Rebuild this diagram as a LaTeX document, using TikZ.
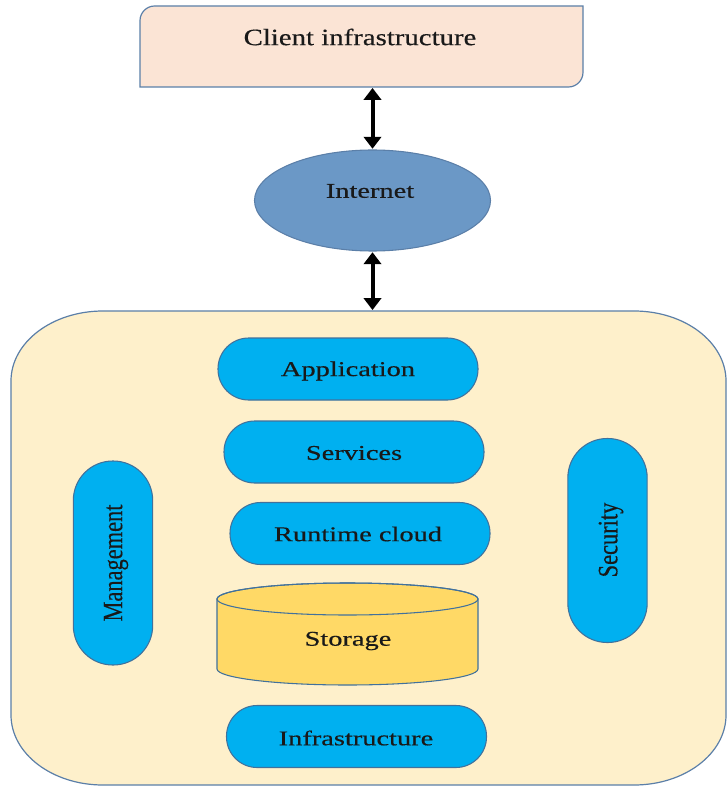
\documentclass[tikz,border=0pt]{standalone}
\usepackage{fontspec}
\setmainfont{Liberation Serif}[FakeBold=0.4]
\usetikzlibrary{arrows.meta,shapes.geometric}
\definecolor{clientfill}{HTML}{FBE4D5}
\definecolor{edgeblue}{HTML}{5B7FA8}
\definecolor{netfill}{HTML}{6B98C6}
\definecolor{cloudfill}{HTML}{FEF0CB}
\definecolor{pillfill}{HTML}{00B0F0}
\definecolor{pilledge}{HTML}{41719C}
\definecolor{storefill}{HTML}{FFD966}
\newcommand{\sx}[1]{\scalebox{1.42}[1.05]{#1}}
\newcommand{\sv}[1]{\rotatebox{90}{\scalebox{1.12}[1.4]{#1}}}
\tikzset{
  lbl/.style={font=\fontsize{15}{18}\selectfont, text=black!90, inner sep=0pt},
  pill/.style={draw=pilledge, fill=pillfill, line width=0.8pt, rounded corners=23pt,
    minimum width=195pt, minimum height=46.5pt, inner sep=0pt},
  vpill/.style={draw=pilledge, fill=pillfill, line width=0.8pt, rounded corners=29.5pt,
    minimum width=59.5pt, minimum height=153pt, inner sep=0pt},
  link/.style={line width=3pt, {Triangle[length=9pt,width=13pt]}-{Triangle[length=9pt,width=13pt]}, shorten <=0.5pt, shorten >=0.5pt}
}
\begin{document}
\begin{tikzpicture}[x=0.75pt,y=-0.75pt]
\useasboundingbox (0,0) rectangle (727,787);
% client box
\draw[edgeblue, fill=clientfill, line width=0.9pt]
  (361,87) -- (140,87) -- (140,46) [rounded corners=11pt] -- (140,6) -- (361,6)
  [sharp corners] -- (583,6) -- (583,46) [rounded corners=11pt] -- (583,87) -- cycle;
\node[minimum width=332pt, minimum height=60.75pt, inner sep=0pt] (client) at (361.5,46.5) {};
\node[lbl] (clienttext) at (360,37) {\scalebox{1.44}[1.17]{Client infrastructure}};
% internet
\node[draw=edgeblue, fill=netfill, line width=0.8pt, ellipse, minimum width=177pt, minimum height=75.75pt, inner sep=0pt] (internet) at (372.5,200.5) {};
\node[lbl] (internettext) at (370,191) {\sx{Internet}};
% cloud container
\draw[edgeblue, fill=cloudfill, line width=0.9pt]
  (103,311) -- (634,311) arc[start angle=-90, end angle=0, x radius=92, y radius=70]
  -- (726,715) arc[start angle=0, end angle=90, x radius=92, y radius=70]
  -- (103,785) arc[start angle=90, end angle=180, x radius=92, y radius=70]
  -- (11,381) arc[start angle=180, end angle=270, x radius=92, y radius=70] -- cycle;
\node[minimum width=536.25pt, minimum height=355.5pt, inner sep=0pt] (cloud) at (368.5,548) {};
% arrows
\draw[link] (internet.north |- client.south) -- (internet.north);
\draw[link] (internet.south) -- (internet.south |- cloud.north);
% pills
\node[pill] (app) at (348,369) {};
\node[lbl] (apptext) at (348,371) {\sx{Application}};
\node[pill] (services) at (354,452) {};
\node[lbl] (servicestext) at (354,453) {\sx{Services}};
\node[pill] (runtime) at (360,533.5) {};
\node[lbl] (runtimetext) at (358,534) {\sx{Runtime cloud}};
\node[pill] (infra) at (356.5,736.5) {};
\node[lbl] (infratext) at (356,738) {\sx{Infrastructure}};
% storage cylinder
\draw[pilledge, fill=storefill, line width=0.8pt]
  (217,599) -- (217,669) arc[start angle=180, end angle=0, x radius=130.5, y radius=16]
  -- (478,599) arc[start angle=0, end angle=-180, x radius=130.5, y radius=16] -- cycle;
\draw[pilledge, line width=0.8pt] (347.5,599) ellipse[x radius=130.5, y radius=16];
\node[lbl] (storage) at (348,641) {\sx{Storage}};
% side pills
\node[vpill] (mgmt) at (113,563) {};
\node[lbl] (mgmttext) at (116,563) {\sv{Management}};
\node[vpill] (security) at (607.5,540.5) {};
\node[lbl] (securitytext) at (611,540) {\sv{Security}};
\end{tikzpicture}
\end{document}
